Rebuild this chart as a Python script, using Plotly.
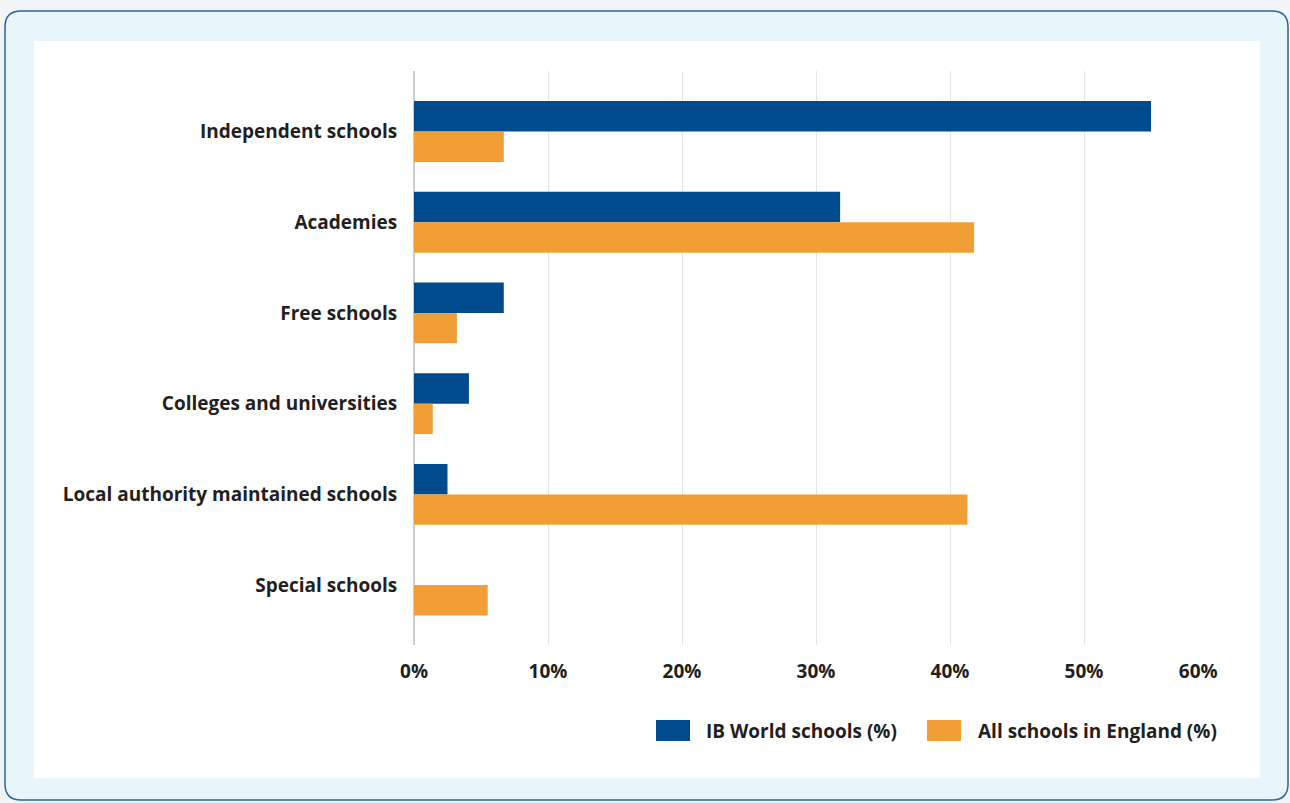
import plotly.graph_objects as go

# School types and share of schools in each group (%)
categories = [
    "Independent schools",
    "Academies",
    "Free schools",
    "Colleges and universities",
    "Local authority maintained schools",
    "Special schools",
]
ib_world = [55.0, 31.8, 6.7, 4.1, 2.5, 0.0]
all_england = [6.7, 41.8, 3.2, 1.4, 41.3, 5.5]
series_names = ["IB World schools (%)", "All schools in England (%)"]
x_ticks = [0, 10, 20, 30, 40, 50, 60]

BLUE = "#004b8d"
ORANGE = "#f09e35"
TEXT = "#231f20"
FONT = "Open Sans"
FS = 19

W, H = 1290, 803
ML, MR, MT, MB = 414, 72, 71, 158
PW, PH = W - ML - MR, H - MT - MB


def px(x):
    return (x - ML) / PW


def py(y):
    return 1 - (y - MT) / PH


def rounded_rect(x0, y0, x1, y1, r):
    # rounded rectangle path in paper coordinates, given pixel corners
    pts = [
        f"M {px(x0 + r)} {py(y0)}",
        f"L {px(x1 - r)} {py(y0)}",
        f"Q {px(x1)} {py(y0)} {px(x1)} {py(y0 + r)}",
        f"L {px(x1)} {py(y1 - r)}",
        f"Q {px(x1)} {py(y1)} {px(x1 - r)} {py(y1)}",
        f"L {px(x0 + r)} {py(y1)}",
        f"Q {px(x0)} {py(y1)} {px(x0)} {py(y1 - r)}",
        f"L {px(x0)} {py(y0 + r)}",
        f"Q {px(x0)} {py(y0)} {px(x0 + r)} {py(y0)}",
        "Z",
    ]
    return " ".join(pts)


def x_label(v):
    # last label is pulled inward so it stays inside the white panel
    pad = "&nbsp;" * 8 if v == x_ticks[-1] else ""
    return f"<b>{v}%</b>{pad}"


fig = go.Figure()
fig.add_trace(go.Bar(y=categories, x=ib_world, orientation="h",
                     name=series_names[0], marker=dict(color=BLUE, line=dict(width=0))))
fig.add_trace(go.Bar(y=categories, x=all_england, orientation="h",
                     name=series_names[1], marker=dict(color=ORANGE, line=dict(width=0))))

shapes = [
    dict(type="path", xref="paper", yref="paper", layer="below",
         path=rounded_rect(5, 11, 1288, 800, 16),
         fillcolor="#e8f6fc", line=dict(color="#2a66a3", width=1.5)),
    dict(type="rect", xref="paper", yref="paper", layer="below",
         x0=px(34), x1=px(1260), y0=py(778), y1=py(41),
         fillcolor="white", line=dict(width=0)),
]

# legend swatches and labels
legend_items = [
    (656, 690, 704, series_names[0], BLUE),
    (927, 961, 976, series_names[1], ORANGE),
]
annotations = []
for sx0, sx1, tx, label, color in legend_items:
    shapes.append(dict(type="rect", xref="paper", yref="paper",
                       x0=px(sx0), x1=px(sx1), y0=py(741), y1=py(720),
                       fillcolor=color, line=dict(width=0)))
    annotations.append(dict(xref="paper", yref="paper", x=px(tx), y=py(731),
                            xanchor="left", yanchor="middle", showarrow=False,
                            text=f"<b>{label}</b>",
                            font=dict(family=FONT, size=FS, color=TEXT)))

fig.update_layout(
    width=W, height=H,
    margin=dict(l=ML, r=MR, t=MT, b=MB),
    paper_bgcolor="#f3f4f7",
    plot_bgcolor="rgba(0,0,0,0)",
    barmode="group",
    bargap=0.33,
    bargroupgap=0,
    showlegend=False,
    shapes=shapes,
    annotations=annotations,
    font=dict(family=FONT, size=FS, color=TEXT),
    xaxis=dict(
        range=[0, 60], tickvals=x_ticks, ticktext=[x_label(v) for v in x_ticks],
        showgrid=True, gridcolor="#e4e4e4", gridwidth=1,
        zeroline=True, zerolinecolor="#cdcdcd", zerolinewidth=2,
        showline=False, ticks="outside", ticklen=9, tickcolor="rgba(0,0,0,0)",
        tickfont=dict(family=FONT, size=FS, color=TEXT),
    ),
    yaxis=dict(
        categoryorder="array", categoryarray=categories,
        range=[5.66, -0.667],
        tickvals=categories, ticktext=[f"<b>{c}</b>" for c in categories],
        showgrid=False, zeroline=False, showline=False,
        ticks="outside", ticklen=12, tickcolor="rgba(0,0,0,0)",
        tickfont=dict(family=FONT, size=FS, color=TEXT),
    ),
)

fig.write_html("out.html")
